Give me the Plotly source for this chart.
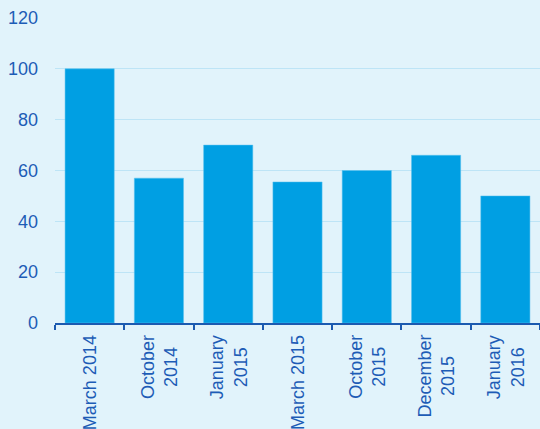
import plotly.graph_objects as go

categories = ["March 2014", "October<br>2014", "January<br>2015", "March 2015",
              "October<br>2015", "December<br>2015", "January<br>2016"]
values = [100, 57, 70, 55.5, 60, 66, 50]
y_ticks = [0, 20, 40, 60, 80, 100, 120]

BG = "#e1f3fb"
BAR = "#009fe3"
TXT = "#1d5cb6"
GRID = "#bde4f6"
FONT = "Liberation Sans, Arial, sans-serif"

fig = go.Figure(go.Bar(
    x=categories, y=values,
    marker=dict(color=BAR, line=dict(color="#5cc3ee", width=0.5)),
))

for c in categories:
    fig.add_annotation(
        x=c, y=0, xref="x", yref="y", yshift=-10,
        text=c, textangle=-90, align="center",
        xanchor="center", yanchor="top", showarrow=False,
        font=dict(family=FONT, size=18, color=TXT),
    )

fig.update_layout(
    width=540, height=429,
    margin=dict(l=55, r=0, t=18, b=106),
    paper_bgcolor=BG, plot_bgcolor=BG,
    bargap=0.29,
    showlegend=False,
    font=dict(family=FONT, size=18, color=TXT),
)
fig.update_xaxes(
    type="category", tickson="boundaries", showticklabels=False,
    ticks="outside", ticklen=5, tickwidth=2, tickcolor="#1b5ab0",
    showline=True, linecolor="#1b5ab0", linewidth=2,
    showgrid=False,
)
fig.update_yaxes(
    range=[0, 120], tickvals=y_ticks, showgrid=True, gridcolor=GRID, gridwidth=1,
    zeroline=False, showline=False, ticks="", ticklabelstandoff=16,
    tickfont=dict(size=18, color=TXT),
)

fig.write_html("out.html")
